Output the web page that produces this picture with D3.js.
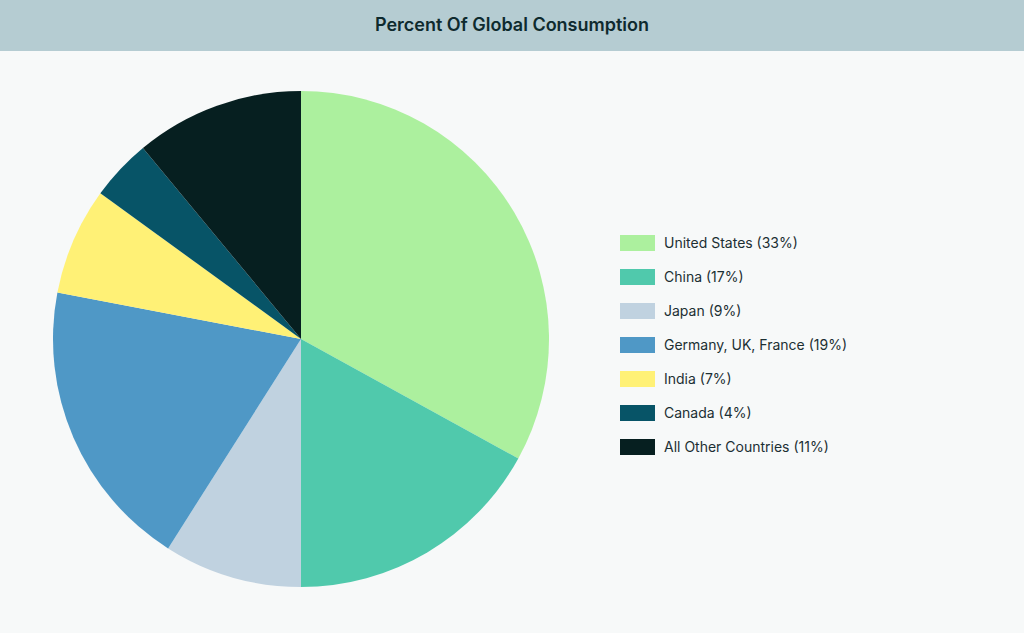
<!DOCTYPE html>
<html><head><meta charset="utf-8">
<script src="https://cdn.jsdelivr.net/npm/d3@7"></script>
<style>
html,body{margin:0;padding:0;background:#f7f9f9;}
svg{display:block;font-family:Inter,"Noto Sans",sans-serif;}
</style></head>
<body><svg id="c" width="1024" height="633"></svg>
<script>
const labels = ["United States (33%)","China (17%)","Japan (9%)","Germany, UK, France (19%)","India (7%)","Canada (4%)","All Other Countries (11%)"];
const values = [33,17,9,19,7,4,11];
const colors = ["#acf09e","#50c9ac","#c0d2e0","#4f98c6","#fff176","#075467","#061f20"];
const title = "Percent Of Global Consumption";

const svg = d3.select("#c");
svg.append("rect").attr("width",1024).attr("height",633).attr("fill","#f7f9f9");
svg.append("rect").attr("width",1024).attr("height",51).attr("fill","#b5ccd2");
svg.append("text").attr("x",512).attr("y",31).attr("text-anchor","middle")
  .attr("font-size",18).attr("font-weight",600).attr("fill","#0e2a2e").text(title);

const data = values.map((v,i)=>({label:labels[i],value:v,color:colors[i]}));
const pie = d3.pie().value(d=>d.value).sort(null);
const arc = d3.arc().innerRadius(0).outerRadius(248);
const g = svg.append("g").attr("transform","translate(301,339)");
g.selectAll("path").data(pie(data)).join("path").attr("d",arc).attr("fill",d=>d.data.color);

const y = d3.scalePoint().domain(labels).range([243,447]);
const lg = svg.append("g");
const row = lg.selectAll("g").data(data).join("g").attr("transform",d=>`translate(620,${y(d.label)})`);
row.append("rect").attr("x",0).attr("y",-8).attr("width",35).attr("height",16).attr("fill",d=>d.color);
row.append("text").attr("x",44).attr("y",5).attr("font-size",14).attr("fill","#1c2f33").text(d=>d.label);
</script></body></html>
